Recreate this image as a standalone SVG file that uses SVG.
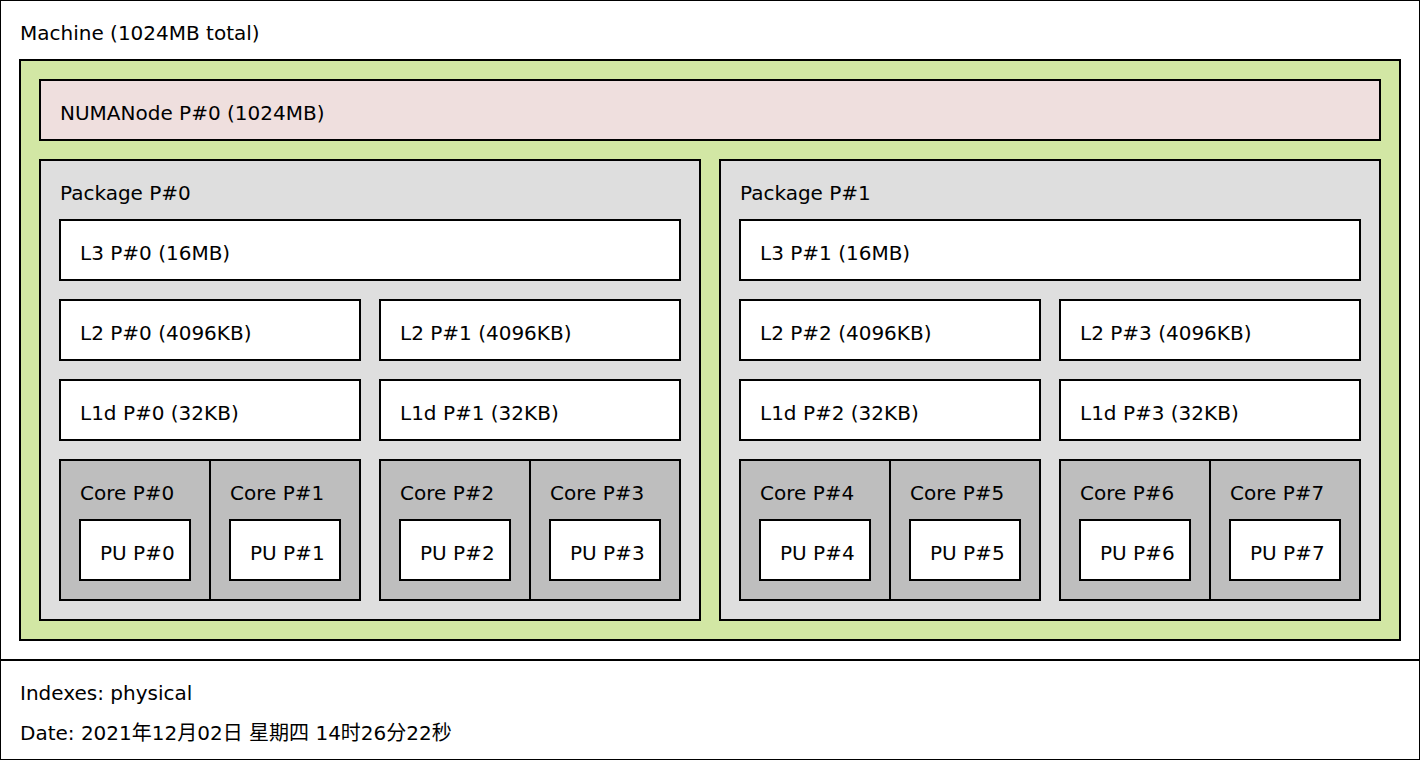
<svg xmlns="http://www.w3.org/2000/svg" width="1420" height="760" viewBox="0 0 1420 760">
  <style>
    rect { stroke: #000; stroke-width: 2; }
    .machine { fill: #ffffff; }
    .group { fill: #d2e7a4; }
    .numa { fill: #efdfde; }
    .pkg { fill: #dedede; }
    .cache { fill: #ffffff; }
    .core { fill: #bebebe; }
    .pu { fill: #ffffff; }
    text { font-family: "DejaVu Sans", "Noto Sans CJK SC", sans-serif; font-size: 20px; fill: #000; }
  </style>

  <!-- machine and legend frames -->
  <g id="machine">
    <rect class="machine" x="0" y="0" width="1420" height="660"/>
    <text x="20" y="40">Machine (1024MB total)</text>
  </g>
  <g id="group0">
    <rect class="group" x="20" y="60" width="1380" height="580"/>
  </g>
  <g id="numa0">
    <rect class="numa" x="40" y="80" width="1340" height="60"/>
    <text x="60" y="120">NUMANode P#0 (1024MB)</text>
  </g>

  <!-- Package 0 -->
  <g id="package0">
    <rect class="pkg" x="40" y="160" width="660" height="460"/>
    <text x="60" y="200">Package P#0</text>
  </g>
  <g id="l3-0">
    <rect class="cache" x="60" y="220" width="620" height="60"/>
    <text x="80" y="260">L3 P#0 (16MB)</text>
  </g>
  <g id="l2-0">
    <rect class="cache" x="60" y="300" width="300" height="60"/>
    <text x="80" y="340">L2 P#0 (4096KB)</text>
  </g>
  <g id="l2-1">
    <rect class="cache" x="380" y="300" width="300" height="60"/>
    <text x="400" y="340">L2 P#1 (4096KB)</text>
  </g>
  <g id="l1d-0">
    <rect class="cache" x="60" y="380" width="300" height="60"/>
    <text x="80" y="420">L1d P#0 (32KB)</text>
  </g>
  <g id="l1d-1">
    <rect class="cache" x="380" y="380" width="300" height="60"/>
    <text x="400" y="420">L1d P#1 (32KB)</text>
  </g>
  <g id="core0">
    <rect class="core" x="60" y="460" width="150" height="140"/>
    <text x="80" y="500">Core P#0</text>
  </g>
  <g id="pu0">
    <rect class="pu" x="80" y="520" width="110" height="60"/>
    <text x="100" y="560">PU P#0</text>
  </g>
  <g id="core1">
    <rect class="core" x="210" y="460" width="150" height="140"/>
    <text x="230" y="500">Core P#1</text>
  </g>
  <g id="pu1">
    <rect class="pu" x="230" y="520" width="110" height="60"/>
    <text x="250" y="560">PU P#1</text>
  </g>
  <g id="core2">
    <rect class="core" x="380" y="460" width="150" height="140"/>
    <text x="400" y="500">Core P#2</text>
  </g>
  <g id="pu2">
    <rect class="pu" x="400" y="520" width="110" height="60"/>
    <text x="420" y="560">PU P#2</text>
  </g>
  <g id="core3">
    <rect class="core" x="530" y="460" width="150" height="140"/>
    <text x="550" y="500">Core P#3</text>
  </g>
  <g id="pu3">
    <rect class="pu" x="550" y="520" width="110" height="60"/>
    <text x="570" y="560">PU P#3</text>
  </g>

  <!-- Package 1 -->
  <g id="package1">
    <rect class="pkg" x="720" y="160" width="660" height="460"/>
    <text x="740" y="200">Package P#1</text>
  </g>
  <g id="l3-1">
    <rect class="cache" x="740" y="220" width="620" height="60"/>
    <text x="760" y="260">L3 P#1 (16MB)</text>
  </g>
  <g id="l2-2">
    <rect class="cache" x="740" y="300" width="300" height="60"/>
    <text x="760" y="340">L2 P#2 (4096KB)</text>
  </g>
  <g id="l2-3">
    <rect class="cache" x="1060" y="300" width="300" height="60"/>
    <text x="1080" y="340">L2 P#3 (4096KB)</text>
  </g>
  <g id="l1d-2">
    <rect class="cache" x="740" y="380" width="300" height="60"/>
    <text x="760" y="420">L1d P#2 (32KB)</text>
  </g>
  <g id="l1d-3">
    <rect class="cache" x="1060" y="380" width="300" height="60"/>
    <text x="1080" y="420">L1d P#3 (32KB)</text>
  </g>
  <g id="core4">
    <rect class="core" x="740" y="460" width="150" height="140"/>
    <text x="760" y="500">Core P#4</text>
  </g>
  <g id="pu4">
    <rect class="pu" x="760" y="520" width="110" height="60"/>
    <text x="780" y="560">PU P#4</text>
  </g>
  <g id="core5">
    <rect class="core" x="890" y="460" width="150" height="140"/>
    <text x="910" y="500">Core P#5</text>
  </g>
  <g id="pu5">
    <rect class="pu" x="910" y="520" width="110" height="60"/>
    <text x="930" y="560">PU P#5</text>
  </g>
  <g id="core6">
    <rect class="core" x="1060" y="460" width="150" height="140"/>
    <text x="1080" y="500">Core P#6</text>
  </g>
  <g id="pu6">
    <rect class="pu" x="1080" y="520" width="110" height="60"/>
    <text x="1100" y="560">PU P#6</text>
  </g>
  <g id="core7">
    <rect class="core" x="1210" y="460" width="150" height="140"/>
    <text x="1230" y="500">Core P#7</text>
  </g>
  <g id="pu7">
    <rect class="pu" x="1230" y="520" width="110" height="60"/>
    <text x="1250" y="560">PU P#7</text>
  </g>

  <!-- legend -->
  <g id="legend">
    <rect class="machine" x="0" y="660" width="1420" height="100"/>
    <text x="20" y="700">Indexes: physical</text>
    <text x="20" y="740">Date: 2021年12月02日 星期四 14时26分22秒</text>
  </g>

  <!-- no connectors in this topology view -->
  <g id="connectors"/>
</svg>
